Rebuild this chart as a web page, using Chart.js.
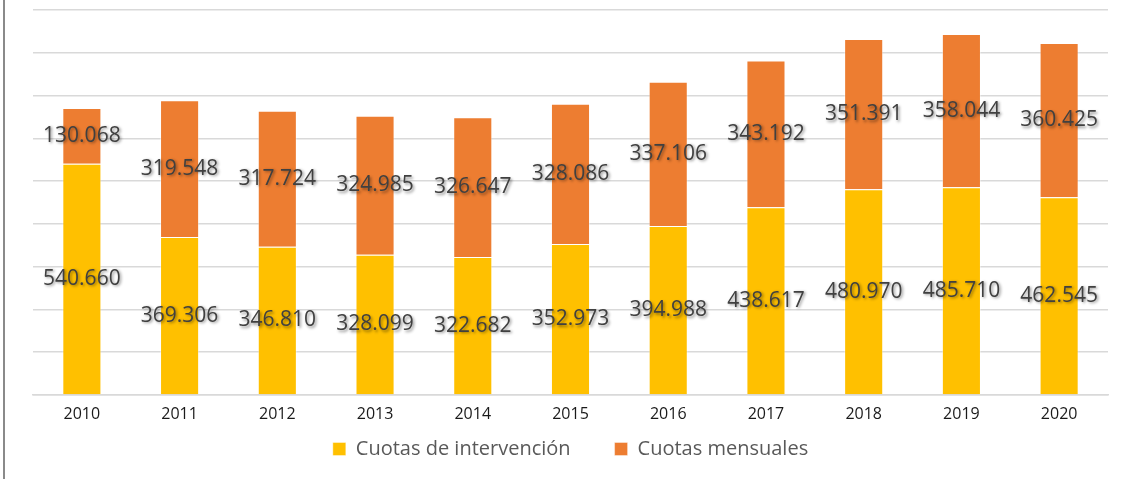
<!DOCTYPE html>
<html lang="es">
<head>
  <meta charset="UTF-8">
  <title>Cuotas</title>
  <script src="https://cdn.jsdelivr.net/npm/chart.js"></script>
  <style>
    html, body {
      margin: 0;
      padding: 0;
      background: #ffffff;
    }
    #wrap {
      position: relative;
      width: 1130px;
      height: 479px;
    }
    #borde {
      position: absolute;
      left: 3px;
      top: 0;
      width: 2px;
      height: 479px;
      background: #8a8a8a;
    }
  </style>
</head>
<body>
  <div id="wrap">
    <div id="borde"></div>
    <canvas id="grafico" width="1130" height="479"></canvas>
  </div>

  <script>
    const anios = ["2010", "2011", "2012", "2013", "2014", "2015", "2016", "2017", "2018", "2019", "2020"];
    const cuotasIntervencion = [540660, 369306, 346810, 328099, 322682, 352973, 394988, 438617, 480970, 485710, 462545];
    const cuotasMensuales = [130068, 319548, 317724, 324985, 326647, 328086, 337106, 343192, 351391, 358044, 360425];

    // etiquetas centradas dentro de cada tramo
    const etiquetas = {
      id: "etiquetas",
      afterDatasetsDraw(chart) {
        const ctx = chart.ctx;
        ctx.save();
        ctx.font = "21px 'Open Sans'";
        ctx.fillStyle = "#404040";
        ctx.textAlign = "center";
        ctx.textBaseline = "middle";
        ctx.shadowColor = "rgba(0,0,0,0.45)";
        ctx.shadowBlur = 3;
        ctx.shadowOffsetX = 1.5;
        ctx.shadowOffsetY = 1.5;
        chart.data.datasets.forEach((ds, i) => {
          const meta = chart.getDatasetMeta(i);
          meta.data.forEach((bar, j) => {
            const v = ds.data[j];
            const txt = v.toLocaleString("de-DE");
            ctx.fillText(txt, bar.x, (bar.y + bar.base) / 2);
          });
        });
        ctx.restore();
      }
    };

    const ctx = document.getElementById("grafico").getContext("2d");
    new Chart(ctx, {
      type: "bar",
      data: {
        labels: anios,
        datasets: [
          {
            label: "Cuotas de intervención",
            data: cuotasIntervencion,
            backgroundColor: "#FFC000",
            borderColor: "rgba(255,255,255,0.4)",
            borderWidth: 1,
            categoryPercentage: 1,
            barPercentage: 0.4
          },
          {
            label: "Cuotas mensuales",
            data: cuotasMensuales,
            backgroundColor: "#ED7D31",
            borderColor: "rgba(255,255,255,0.4)",
            borderWidth: 1,
            categoryPercentage: 1,
            barPercentage: 0.4
          }
        ]
      },
      options: {
        responsive: false,
        animation: false,
        layout: {
          padding: { left: 33, right: 22, top: 10, bottom: 10 }
        },
        scales: {
          x: {
            stacked: true,
            grid: { display: false },
            border: { color: "#d9d9d9", width: 1.5 },
            ticks: {
              color: "#1a1a1a",
              font: { family: "'Open Sans'", size: 16 },
              padding: 2
            },
            afterFit(scale) {
              scale.height = 26;
            }
          },
          y: {
            stacked: true,
            min: 0,
            max: 900000,
            ticks: { display: false, stepSize: 100000 },
            grid: { color: "#d9d9d9", lineWidth: 1.5, drawTicks: false },
            border: { display: false }
          }
        },
        plugins: {
          legend: {
            position: "bottom",
            labels: {
              color: "#595959",
              font: { family: "'Open Sans'", size: 20 },
              boxWidth: 13,
              boxHeight: 13,
              padding: 18,
              generateLabels(chart) {
                const items = Chart.defaults.plugins.legend.labels.generateLabels(chart);
                // un poco más de aire entre las dos entradas
                items[0].text += "\u00a0\u00a0\u00a0\u00a0\u00a0";
                return items;
              }
            }
          },
          tooltip: { enabled: false }
        }
      },
      plugins: [etiquetas]
    });
  </script>
</body>
</html>
